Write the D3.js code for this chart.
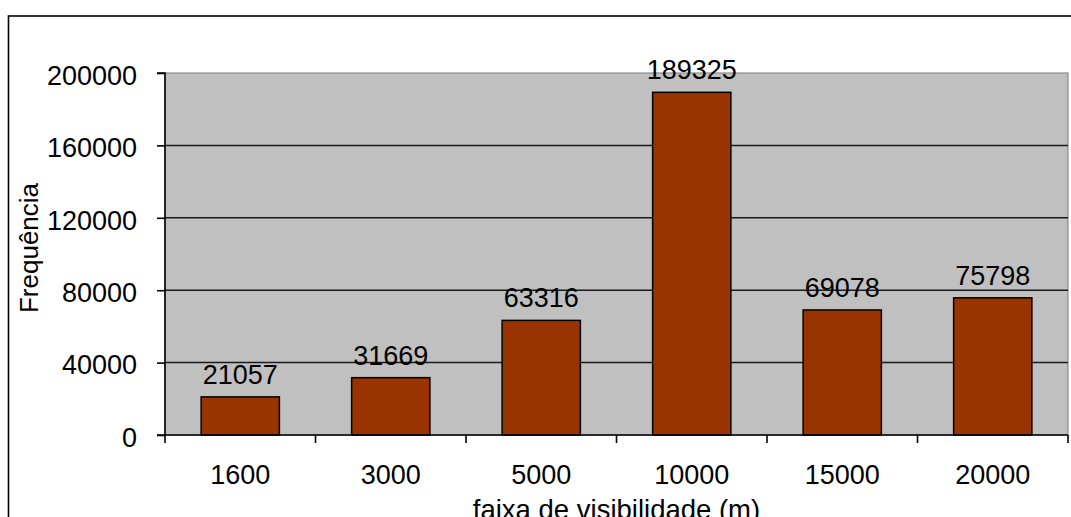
<!DOCTYPE html>
<html>
<head>
<meta charset="utf-8">
<script src="https://cdn.jsdelivr.net/npm/d3@7"></script>
<style>
  html, body { margin: 0; padding: 0; background: #fff; }
  svg { display: block; font-family: "Liberation Sans", Arial, sans-serif; }
</style>
</head>
<body>
<svg id="chart" width="1071" height="517"></svg>
<script>
// Visibility-range frequency data
const categories = ["1600", "3000", "5000", "10000", "15000", "20000"];
const frequencies = [21057, 31669, 63316, 189325, 69078, 75798];
const yTicks = [0, 40000, 80000, 120000, 160000, 200000];

const svg = d3.select("#chart");
const plot = { left: 165, right: 1068, top: 73, bottom: 435 };

// Outer chart frame (runs past the right and bottom edges)
svg.append("rect")
  .attr("x", 8.5).attr("y", 16)
  .attr("width", 1200).attr("height", 600)
  .attr("fill", "#fff").attr("stroke", "#000").attr("stroke-width", 1.6);

const x = d3.scaleBand()
  .domain(categories)
  .range([plot.left, plot.right])
  .paddingInner(0.48)
  .paddingOuter(0.24);

const xBand = d3.scaleBand().domain(categories).range([plot.left, plot.right]);

const y = d3.scaleLinear().domain([0, 200000]).range([plot.bottom, plot.top]);

// Plot area background
svg.append("rect")
  .attr("x", plot.left).attr("y", plot.top)
  .attr("width", plot.right - plot.left).attr("height", plot.bottom - plot.top)
  .attr("fill", "#c0c0c0").attr("stroke", "#8a8a8a").attr("stroke-width", 1.2);

// Horizontal gridlines
svg.append("g").selectAll("line")
  .data(yTicks.filter(d => d > 0 && d < 200000))
  .join("line")
  .attr("x1", plot.left).attr("x2", plot.right)
  .attr("y1", d => y(d)).attr("y2", d => y(d))
  .attr("stroke", "#1a1a1a").attr("stroke-width", 1.5);

// Bars
svg.append("g").selectAll("rect")
  .data(frequencies)
  .join("rect")
  .attr("x", (d, i) => x(categories[i]))
  .attr("y", d => y(d))
  .attr("width", x.bandwidth())
  .attr("height", d => y(0) - y(d))
  .attr("fill", "#993300")
  .attr("stroke", "#000").attr("stroke-width", 1.5);

// Value labels above bars
svg.append("g").selectAll("text")
  .data(frequencies)
  .join("text")
  .attr("x", (d, i) => x(categories[i]) + x.bandwidth() / 2)
  .attr("y", d => y(d) - 13)
  .attr("text-anchor", "middle")
  .attr("font-size", 27)
  .attr("fill", "#000")
  .text(d => d);

// Y axis
const yAxis = d3.axisLeft(y).tickValues(yTicks).tickSize(8).tickPadding(20).tickFormat(d3.format("d"));
const gy = svg.append("g").attr("transform", `translate(${plot.left},0)`).call(yAxis);
gy.select(".domain").attr("d", `M-8,${plot.top}H0V${plot.bottom + 8}`).attr("stroke", "#000").attr("stroke-width", 1.6);
gy.selectAll(".tick line").attr("stroke", "#000").attr("stroke-width", 1.6);
gy.selectAll(".tick text")
  .attr("font-size", 27).attr("font-family", "Liberation Sans, Arial, sans-serif")
  .attr("fill", "#000").attr("dy", "0.42em");

// X axis: ticks at band boundaries, labels at band centers
const gx = svg.append("g");
gx.append("line")
  .attr("x1", plot.left - 8).attr("x2", plot.right)
  .attr("y1", plot.bottom).attr("y2", plot.bottom)
  .attr("stroke", "#000").attr("stroke-width", 1.6);
gx.selectAll("line.tk")
  .data(categories.slice(1).concat(["__end"]))
  .join("line").attr("class", "tk")
  .attr("x1", (d, i) => i < categories.length - 1 ? xBand(d) : plot.right)
  .attr("x2", (d, i) => i < categories.length - 1 ? xBand(d) : plot.right)
  .attr("y1", plot.bottom).attr("y2", plot.bottom + 8)
  .attr("stroke", "#000").attr("stroke-width", 1.6);
gx.selectAll("text")
  .data(categories)
  .join("text")
  .attr("x", d => xBand(d) + xBand.bandwidth() / 2)
  .attr("y", 484)
  .attr("text-anchor", "middle")
  .attr("font-size", 27)
  .attr("fill", "#000")
  .text(d => d);

// Axis titles
svg.append("text")
  .attr("x", (plot.left + plot.right) / 2)
  .attr("y", 519)
  .attr("text-anchor", "middle")
  .attr("font-size", 27.5)
  .attr("fill", "#000")
  .text("faixa de visibilidade (m)");

svg.append("text")
  .attr("transform", `translate(38,${(plot.top + plot.bottom) / 2 - 6}) rotate(-90)`)
  .attr("text-anchor", "middle")
  .attr("font-size", 26)
  .attr("fill", "#000")
  .text("Frequência");
</script>
</body>
</html>
